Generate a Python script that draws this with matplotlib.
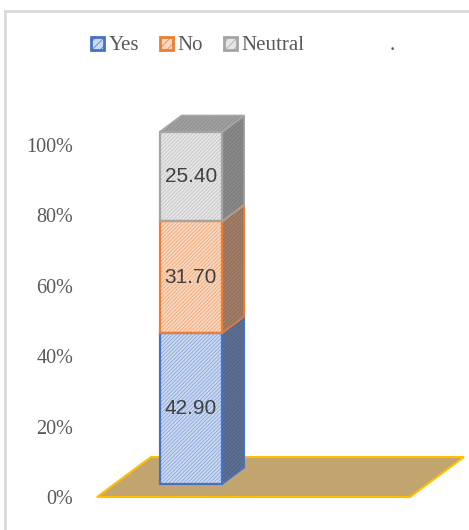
import matplotlib
matplotlib.use("Agg")
import matplotlib.pyplot as plt
import matplotlib.transforms as mtransforms
from matplotlib.patches import Polygon, Patch
from matplotlib.lines import Line2D

# stacked shares (percent)
series = ["Yes", "No", "Neutral"]
values = [42.90, 31.70, 25.40]
yticks = [0, 20, 40, 60, 80, 100]
ytick_labels = ["0%", "20%", "40%", "60%", "80%", "100%"]

front_colors = ["#CCDAF2", "#FAD7BF", "#E6E6E6"]
front_hatch = ["#7D9CD6", "#F0A06C", "#BEBEBE"]
edge_colors = ["#4472C4", "#ED7D31", "#A5A5A5"]
side_colors = ["#5E7094", "#A27E68", "#8A8A8A"]
side_hatch = ["#4C5E84", "#8C6A55", "#757575"]
top_color, top_hatch = "#A0A0A0", "#8C8C8C"

W, H = 469, 530
fig = plt.figure(figsize=(W / 100, H / 100), dpi=100)
plt.rcParams["hatch.linewidth"] = 0.5

# axes box in pixels
ax_l, ax_b, ax_w, ax_h = 97, 33, 313, 352
ax = fig.add_axes([ax_l / W, ax_b / H, ax_w / W, ax_h / H])
ax.set_xlim(0, 5)
ax.set_ylim(0, 100)
for s in ax.spines.values():
    s.set_visible(False)
ax.set_xticks([])
ax.set_yticks(yticks)
ax.set_yticklabels(ytick_labels, family="Liberation Serif", fontsize=14.5, color="#595959")
ax.tick_params(axis="y", length=0, pad=17)
ax.patch.set_visible(False)

px_x = ax_w / 5.0      # pixels per x unit
px_y = ax_h / 100.0    # pixels per percent

# floor
floor_dx, floor_dy = 54 / px_x, 40 / px_y
floor = Polygon([(0, 0), (5, 0), (5 + floor_dx, floor_dy), (floor_dx, floor_dy)],
                closed=True, facecolor="#C2A56E", edgecolor="#FFC000", lw=1.5,
                clip_on=False, zorder=1)
ax.add_patch(floor)

# bar, lifted onto the floor
lift = mtransforms.ScaledTranslation(0, 0.13, fig.dpi_scale_trans)
bar_tr = ax.transData + lift
depth_dx, depth_dy = 22 / px_x, 16.5 / px_y
x0, bw = 1.0, 1.0
x1 = x0 + bw
xc = x0 + bw / 2


def face(pts, fc, hc, ec, lw):
    # hatched fill, then a plain outline on top
    ax.add_patch(Polygon(pts, closed=True, facecolor=fc, edgecolor=hc, lw=0,
                         hatch="/////////", transform=bar_tr, clip_on=False, zorder=2))
    ax.add_patch(Polygon(pts, closed=True, fill=False, edgecolor=ec, lw=lw,
                         transform=bar_tr, clip_on=False, zorder=3))


bottom = 0
for name, v, fc, hc, ec, sc, shc in zip(series, values, front_colors, front_hatch,
                                        edge_colors, side_colors, side_hatch):
    top = bottom + v
    face([(x1, bottom), (x1 + depth_dx, bottom + depth_dy),
          (x1 + depth_dx, top + depth_dy), (x1, top)], sc, shc, ec, 1.2)
    bars = ax.bar(xc, v, width=bw, bottom=bottom, color=fc, edgecolor=hc, lw=0,
                  hatch="/////////", zorder=4)
    outline = ax.bar(xc, v, width=bw, bottom=bottom, fill=False, edgecolor=ec,
                     lw=1.6, zorder=5)
    for r in list(bars) + list(outline):
        r.set_transform(bar_tr)
        r.set_clip_on(False)
    ax.text(xc, bottom + v / 2, f"{v:.2f}", transform=bar_tr,
            ha="center", va="center", fontsize=15, color="#404040",
            family="Liberation Sans", zorder=6)
    bottom = top

face([(x0, bottom), (x1, bottom), (x1 + depth_dx, bottom + depth_dy),
      (x0 + depth_dx, bottom + depth_dy)], top_color, top_hatch, "#A5A5A5", 1.2)

# legend
handles = [Patch(facecolor=fc, edgecolor=ec, hatch="////", lw=2)
           for fc, ec in zip(front_colors, edge_colors)]
fig.legend(handles, series, loc="center left", bbox_to_anchor=(91 / W, 1 - 46 / H),
           ncol=3, frameon=False, borderpad=0, borderaxespad=0,
           handlelength=0.6, handleheight=0.6, handletextpad=0.25,
           columnspacing=1.0, prop={"family": "Liberation Serif", "size": 15},
           labelcolor="#595959")
fig.text(390 / W, 1 - 46 / H, ".", family="Liberation Serif", fontsize=15,
         color="#595959", va="center")

# chart area border (top and left visible)
fig.add_artist(Line2D([5 / W, 1.0], [1 - 11 / H, 1 - 11 / H], transform=fig.transFigure,
                      color="#D9D9D9", lw=2))
fig.add_artist(Line2D([5 / W, 5 / W], [0, 1 - 11 / H], transform=fig.transFigure,
                      color="#D9D9D9", lw=2))

fig.savefig("out.png", dpi=100)
